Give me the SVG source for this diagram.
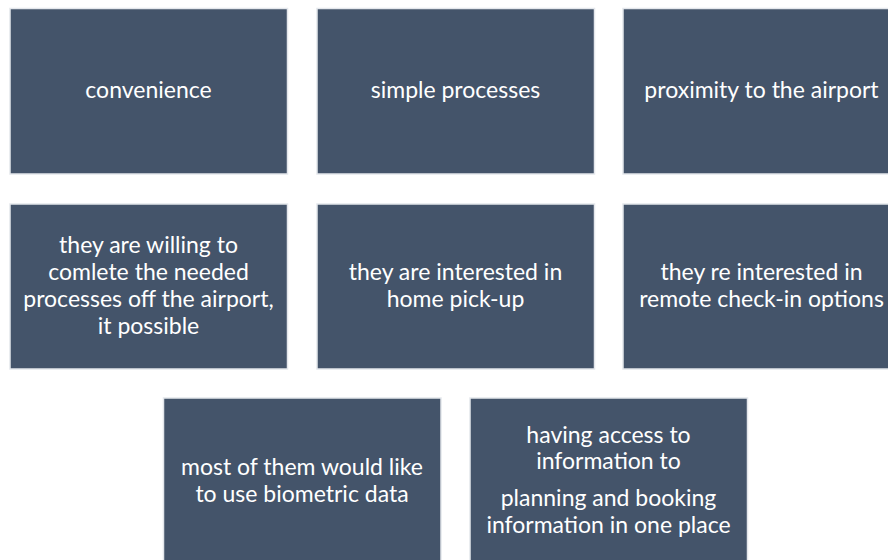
<svg xmlns="http://www.w3.org/2000/svg" width="888" height="560" viewBox="0 0 888 560">
<style>
.box{fill:#44546A;stroke:#E4E7EC;stroke-width:1.5}
.t{font-family:Lato,"Open Sans",sans-serif;font-size:23px;fill:#FFFFFF;text-anchor:middle}
</style>
<rect width="888" height="560" fill="#FFFFFF"/>
<g id="connectors"></g>
<g id="n1"><rect class="box" x="10" y="8.5" width="277.5" height="165.5"/><text class="t" x="148.5" y="98">convenience</text></g>
<g id="n2"><rect class="box" x="317" y="8.5" width="277.5" height="165.5"/><text class="t" x="455.5" y="98">simple processes</text></g>
<g id="n3"><rect class="box" x="623" y="8.5" width="277.5" height="165.5"/><text class="t" x="761.5" y="98">proximity to the airport</text></g>
<g id="n4"><rect class="box" x="10" y="204" width="277.5" height="165"/><text class="t" x="148.5" y="253">they are willing to</text><text class="t" x="148.5" y="280">comlete the needed</text><text class="t" x="148.5" y="307">processes off the airport,</text><text class="t" x="148.5" y="334">it possible</text></g>
<g id="n5"><rect class="box" x="317" y="204" width="277.5" height="165"/><text class="t" x="455.5" y="280">they are interested in</text><text class="t" x="455.5" y="307">home pick-up</text></g>
<g id="n6"><rect class="box" x="623" y="204" width="277.5" height="165"/><text class="t" x="761.5" y="280">they re interested in</text><text class="t" x="761.5" y="307">remote check-in options</text></g>
<g id="n7"><rect class="box" x="163.5" y="398" width="277.5" height="170"/><text class="t" x="302" y="475">most of them would like</text><text class="t" x="302" y="502">to use biometric data</text></g>
<g id="n8"><rect class="box" x="470" y="398" width="277.5" height="170"/><text class="t" x="608.5" y="443">having access to</text><text class="t" x="608.5" y="469">information to</text><text class="t" x="608.5" y="506">planning and booking</text><text class="t" x="608.5" y="533">information in one place</text></g>
</svg>
